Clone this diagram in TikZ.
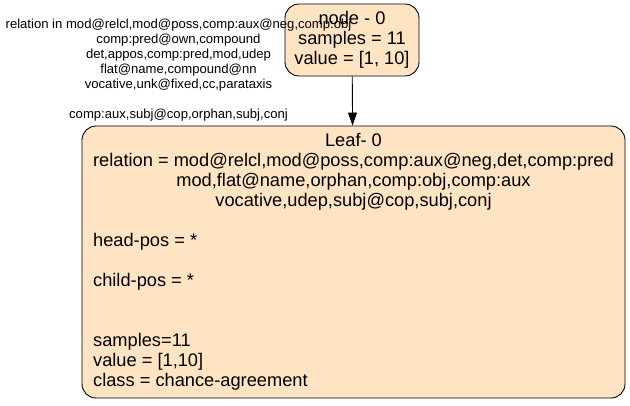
\documentclass[tikz,border=0pt]{standalone}
\usepackage{fontspec}
\setmainfont{Liberation Sans}
\usepackage{tikz}
\usetikzlibrary{arrows.meta, positioning}
\definecolor{bisque}{HTML}{FFE4C4}

\begin{document}
\begin{tikzpicture}[x=1pt, y=-1pt,
    treenode/.style={draw, fill=bisque, rounded corners=14pt, line width=0.9pt, inner sep=0pt,
      font=\fontsize{18.25}{20}\selectfont},
    edgelabel/.style={align=center, inner sep=0pt, font=\fontsize{13.1}{15}\selectfont}]
    \useasboundingbox (0,0) rectangle (630,405);
    \node [treenode, minimum width=134pt, minimum height=72pt, align=center] (node0) at (352,40) {
      node - 0\\samples = 11\\value = [1, 10]
    };
    \node [treenode, minimum width=543pt, minimum height=272pt] (leaf0) at (353.5,262) {
      \begin{tabular}{@{}l@{}}
        \multicolumn{1}{@{}c@{}}{Leaf- 0}\\
        \multicolumn{1}{@{}c@{}}{relation = mod@relcl,mod@poss,comp:aux@neg,det,comp:pred}\\
        \multicolumn{1}{@{}c@{}}{mod,flat@name,orphan,comp:obj,comp:aux}\\
        \multicolumn{1}{@{}c@{}}{vocative,udep,subj@cop,subj,conj}\\
        \\
        head-pos = *\\
        \\
        child-pos = *\\
        \\
        \\
        samples=11\\
        value = [1,10]\\
        class = chance-agreement
      \end{tabular}
    };
    \draw [-{Triangle[length=13pt, width=9pt]}, line width=0.9pt] (node0) -- (leaf0);
    \node [edgelabel] (rel0) at (178.5,70) {
      relation in mod@relcl,mod@poss,comp:aux@neg,comp:obj\\
      comp:pred@own,compound\\
      det,appos,comp:pred,mod,udep\\
      flat@name,compound@nn\\
      vocative,unk@fixed,cc,parataxis\\
      \\
      comp:aux,subj@cop,orphan,subj,conj
    };
  \end{tikzpicture}
\end{document}
